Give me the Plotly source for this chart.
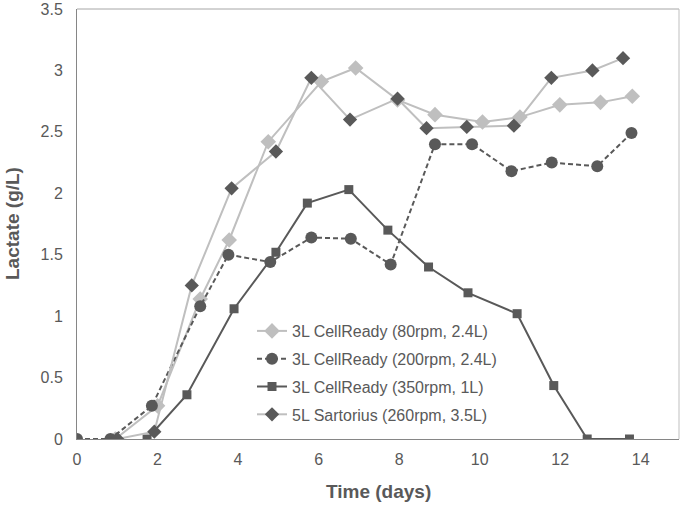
import plotly.graph_objects as go

# --- data ---
names = ["3L CellReady (80rpm, 2.4L)", "3L CellReady (200rpm, 2.4L)",
         "3L CellReady (350rpm, 1L)", "5L Sartorius (260rpm, 3.5L)"]

x80 = [0.95, 2.0, 3.06, 3.78, 4.75, 6.07, 6.92, 7.96, 8.89, 10.07, 11.0, 11.99, 13.0, 13.79]
y80 = [0, 0.27, 1.14, 1.62, 2.42, 2.91, 3.02, 2.76, 2.64, 2.58, 2.62, 2.72, 2.74, 2.79]

x200 = [0, 0.83, 1.86, 3.06, 3.76, 4.80, 5.82, 6.80, 7.79, 8.89, 9.81, 10.79, 11.79, 12.92, 13.77]
y200 = [0, 0, 0.27, 1.08, 1.50, 1.44, 1.64, 1.63, 1.42, 2.40, 2.40, 2.18, 2.25, 2.22, 2.49]

x350 = [1.74, 2.73, 3.90, 4.94, 5.72, 6.75, 7.72, 8.73, 9.71, 10.93, 11.84, 12.67, 13.72]
y350 = [0, 0.36, 1.06, 1.52, 1.92, 2.03, 1.70, 1.40, 1.19, 1.02, 0.435, 0, 0]

xsar = [1.0, 1.92, 2.85, 3.84, 4.94, 5.82, 6.78, 7.96, 8.68, 9.68, 10.85, 11.78, 12.80, 13.56]
ysar = [0, 0.06, 1.25, 2.04, 2.34, 2.94, 2.60, 2.77, 2.53, 2.54, 2.55, 2.94, 3.00, 3.10]

x_ticks = [0, 2, 4, 6, 8, 10, 12, 14]
y_ticks = [0, 0.5, 1, 1.5, 2, 2.5, 3, 3.5]
y_tick_text = ["0", "0.5", "1", "1.5", "2", "2.5", "3", "3.5"]

DARK = "#595959"
LIGHT = "#BFBFBF"
FONT = "Liberation Sans, Arial, sans-serif"

fig = go.Figure()
fig.add_trace(go.Scatter(x=x80, y=y80, name=names[0], mode="lines+markers", legendgroup="a",
                         line=dict(color=LIGHT, width=2),
                         marker=dict(symbol="diamond", size=12, color=LIGHT)))
fig.add_trace(go.Scatter(x=x200, y=y200, name=names[1], mode="lines+markers", legendgroup="b",
                         line=dict(color=DARK, width=2, dash="5px,3px"),
                         marker=dict(symbol="circle", size=12, color=DARK)))
fig.add_trace(go.Scatter(x=x350, y=y350, name=names[2], mode="lines+markers", legendgroup="c",
                         line=dict(color=DARK, width=2),
                         marker=dict(symbol="square", size=9, color=DARK)))
fig.add_trace(go.Scatter(x=xsar, y=ysar, name=names[3], mode="lines+markers", legendgroup="d",
                         line=dict(color=LIGHT, width=2),
                         marker=dict(symbol="diamond", size=11, color=DARK)))

W, H = 683, 506
L, R, T, B = 77, 4, 9, 67
PW, PH = W - L - R, H - T - B
PB = H - B  # plot bottom in px


def py(page_y):
    return (PB - page_y) / PH


def px(page_x):
    return (page_x - L) / PW


fig.update_layout(
    width=W, height=H,
    margin=dict(l=L, r=R, t=T, b=B, autoexpand=False),
    paper_bgcolor="white", plot_bgcolor="white",
    font=dict(family=FONT, color=DARK, size=16),
    showlegend=True,
    legend=dict(x=px(252), y=py(314),
                xanchor="left", yanchor="top", bgcolor="rgba(0,0,0,0)",
                font=dict(size=16, color=DARK), tracegroupgap=4),
    xaxis=dict(range=[0, 14.95], tickvals=x_ticks, showgrid=False, zeroline=False,
               showline=True, linecolor="#868686", linewidth=1, ticks="", automargin=False,
               tickfont=dict(size=16, color=DARK), ticklabelstandoff=6),
    yaxis=dict(range=[0, 3.5], tickvals=y_ticks, ticktext=y_tick_text, showgrid=False,
               zeroline=False, showline=True, linecolor="#868686", linewidth=1, ticks="",
               automargin=False, ticklabeloverflow="allow",
               tickfont=dict(size=16, color=DARK), ticklabelstandoff=10),
    shapes=[
        dict(type="line", xref="paper", yref="paper", x0=0, x1=1, y0=1, y1=1,
             line=dict(color="#A6A6A6", width=1)),
        dict(type="line", xref="paper", yref="paper", x0=1, x1=1, y0=0, y1=1,
             line=dict(color="#BFBFBF", width=1)),
    ],
    annotations=[
        dict(text="<b>Time (days)</b>", xref="paper", yref="paper",
             x=0.5, y=py(492), xanchor="center", yanchor="middle",
             showarrow=False, font=dict(size=19, color=DARK, family=FONT)),
        dict(text="<b>Lactate (g/L)</b>", xref="paper", yref="paper",
             x=px(12), y=0.5, xanchor="center", yanchor="middle",
             textangle=-90, showarrow=False, font=dict(size=19, color=DARK, family=FONT)),
    ],
)

# remove the browser's default 8px body margin so the figure fills the window exactly
fig.write_html("out.html",
               config={"displayModeBar": False},
               post_script="document.body.style.margin='0';document.body.style.overflow='hidden';")
